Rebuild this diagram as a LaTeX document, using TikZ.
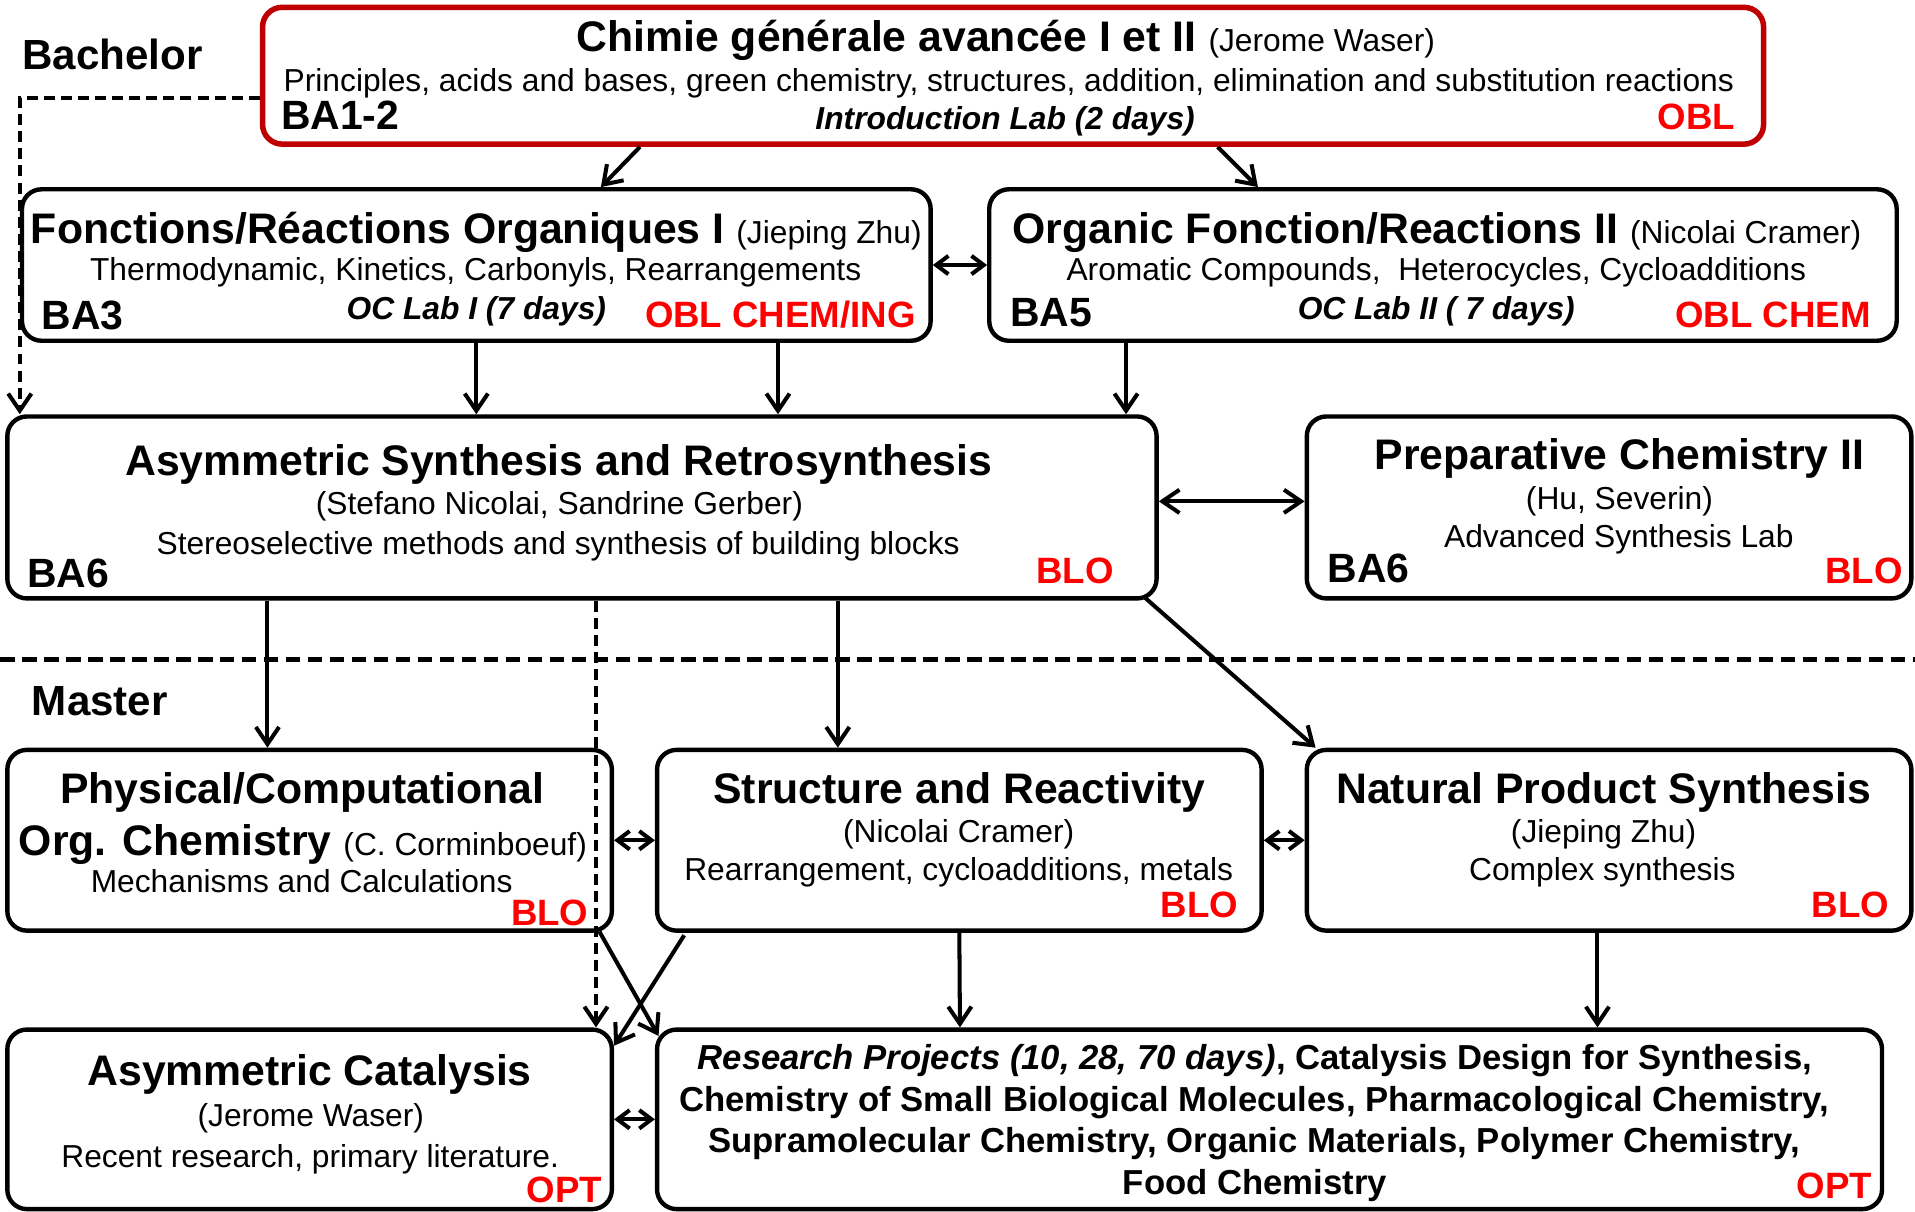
\documentclass[tikz,border=0pt]{standalone}
\usepackage{fontspec}
\setmainfont{Liberation Sans}
\usetikzlibrary{arrows.meta}
\definecolor{boxRed}{RGB}{192,0,0}
\tikzset{course/.style={draw, line width=3.6pt, rounded corners=16pt, inner sep=0pt},
    ttl/.style={anchor=base, inner sep=0pt, font=\fontsize{35}{40}\selectfont\bfseries},
    txt/.style={anchor=base, inner sep=0pt, font=\fontsize{26}{30}\selectfont},
    lab/.style={anchor=base, inner sep=0pt, font=\fontsize{26}{30}\selectfont\bfseries\itshape},
    sem/.style={anchor=base west, inner sep=0pt, font=\fontsize{33.5}{38}\selectfont\bfseries},
    stage/.style={anchor=base west, inner sep=0pt, font=\fontsize{34.5}{40}\selectfont\bfseries},
    tag/.style={anchor=base east, inner sep=0pt, text=red, font=\fontsize{30}{34}\selectfont\bfseries},
    proj/.style={anchor=base, inner sep=0pt, font=\fontsize{28.4}{32}\selectfont\bfseries},
    link/.style={line width=3.3pt},
    twin/.style={line width=3.3pt, >={Straight Barb[length=10pt,width=15pt]}},
    dashlink/.style={line width=3.3pt, dash pattern=on 9pt off 5pt},
    }

\begin{document}
\begin{tikzpicture}[x=1pt, y=-1pt, >={Straight Barb[length=14pt,width=19pt]}]
	\fill[white] (0,0) rectangle (1568,992);
	\useasboundingbox (0,0) rectangle (1568,992);
	\node[stage] (bachelor) at (18,56.5) {Bachelor};
	\node[stage] (master) at (26,585.5) {Master};
	\coordinate (divL) at (0,540);
	\coordinate (divR) at (1568,540);
	\draw[line width=3.6pt, dash pattern=on 12pt off 6pt] (divL) -- (divR);

	%BA1-2
	\node[course, draw=boxRed, line width=4.5pt, minimum width=1229pt, minimum height=112pt] (chimie) at (829.5,62) {};
	\node[ttl] (chimieT) at (823.5,42.5) {Chimie générale avancée I et II {\fontsize{26}{30}\selectfont\mdseries (Jerome Waser)}};
	\node[txt] (chimieD) at (826,75) {Principles, acids and bases, green chemistry, structures, addition, elimination and substitution reactions};
	\node[sem] (chimieS) at (230,106) {BA1-2};
	\node[lab] (chimieL) at (823,106) {Introduction Lab (2 days)};
	\node[tag] (chimieO) at (1421,106) {OBL};

	%BA3
	\node[course, minimum width=744pt, minimum height=124pt] (orgOne) at (390,217) {};
	\node[ttl] (orgOneT) at (390,199.5) {Fonctions/Réactions Organiques I {\fontsize{26}{30}\selectfont\mdseries (Jieping Zhu)}};
	\node[txt] (orgOneD) at (389.5,230) {Thermodynamic, Kinetics, Carbonyls, Rearrangements};
	\node[sem] (orgOneS) at (34,270) {BA3};
	\node[lab] (orgOneL) at (390,262) {OC Lab I (7 days)};
	\node[tag] (orgOneO) at (750,268) {OBL CHEM/ING};

	%BA5
	\node[course, minimum width=743pt, minimum height=124pt] (orgTwo) at (1181.5,217) {};
	\node[ttl] (orgTwoT) at (1176.5,199.5) {Organic Fonction/Reactions II {\fontsize{26}{30}\selectfont\mdseries (Nicolai Cramer)}};
	\node[txt] (orgTwoD) at (1176,230) {Aromatic Compounds, \ Heterocycles, Cycloadditions};
	\node[sem] (orgTwoS) at (827,267) {BA5};
	\node[lab] (orgTwoL) at (1176,262) {OC Lab II ( 7 days)};
	\node[tag] (orgTwoO) at (1532,268) {OBL CHEM};

	%BA6
	\node[course, minimum width=941pt, minimum height=149pt] (asymSynth) at (476.5,415.5) {};
	\node[ttl] (asymSynthT) at (457.5,389.5) {Asymmetric Synthesis and Retrosynthesis};
	\node[txt] (asymSynthP) at (458,421) {(Stefano Nicolai, Sandrine Gerber)};
	\node[txt] (asymSynthD) at (457,454) {Stereoselective methods and synthesis of building blocks};
	\node[sem] (asymSynthS) at (22,481) {BA6};
	\node[tag] (asymSynthO) at (912,478) {BLO};

	\node[course, minimum width=495pt, minimum height=149pt] (prepChem) at (1317.5,415.5) {};
	\node[ttl] (prepChemT) at (1326,384.5) {Preparative Chemistry II};
	\node[txt] (prepChemP) at (1326,417) {(Hu, Severin)};
	\node[txt] (prepChemD) at (1325.5,448) {Advanced Synthesis Lab};
	\node[sem] (prepChemS) at (1087,477) {BA6};
	\node[tag] (prepChemO) at (1558,478) {BLO};

	%Master
	\node[course, minimum width=495pt, minimum height=148pt] (physComp) at (253.5,688) {};
	\node[ttl] (physCompT) at (247.5,657.5) {Physical/Computational};
	\node[ttl] (physCompU) at (248,700.5) {Org. Chemistry {\fontsize{26}{30}\selectfont\mdseries (C. Corminboeuf)}};
	\node[txt] (physCompD) at (247,731) {Mechanisms and Calculations};
	\node[tag] (physCompO) at (482,758) {BLO};

	\node[course, minimum width=495pt, minimum height=148pt] (structReact) at (785.5,688) {};
	\node[ttl] (structReactT) at (785.5,657.5) {Structure and Reactivity};
	\node[txt] (structReactP) at (785,690) {(Nicolai Cramer)};
	\node[txt] (structReactD) at (785,721) {Rearrangement, cycloadditions, metals};
	\node[tag] (structReactO) at (1014,751) {BLO};

	\node[course, minimum width=495pt, minimum height=148pt] (natProd) at (1317.5,688) {};
	\node[ttl] (natProdT) at (1313,657.5) {Natural Product Synthesis};
	\node[txt] (natProdP) at (1313,690) {(Jieping Zhu)};
	\node[txt] (natProdD) at (1312,721) {Complex synthesis};
	\node[tag] (natProdO) at (1547,751) {BLO};

	\node[course, minimum width=495pt, minimum height=147pt] (asymCat) at (253.5,916.5) {};
	\node[ttl] (asymCatT) at (253.5,888.5) {Asymmetric Catalysis};
	\node[txt] (asymCatP) at (254.5,922) {(Jerome Waser)};
	\node[txt] (asymCatD) at (254,956) {Recent research, primary literature.};
	\node[tag] (asymCatO) at (493,985) {OPT};

	\node[course, minimum width=1003pt, minimum height=147pt] (research) at (1039.5,916.5) {};
	\node[proj] (researchA) at (1027.5,876) {{\itshape Research Projects (10, 28, 70 days)}, Catalysis Design for Synthesis,};
	\node[proj] (researchB) at (1027,910) {Chemistry of Small Biological Molecules, Pharmacological Chemistry,};
	\node[proj] (researchC) at (1027,944) {Supramolecular Chemistry, Organic Materials, Polymer Chemistry,};
	\node[proj] (researchD) at (1027.5,978) {Food Chemistry};
	\node[tag] (researchO) at (1533,981) {OPT};

	%connectors
	\draw[link, ->] ([xshift=-305.5pt]chimie.south) -- ([xshift=102pt]orgOne.north);
	\draw[link, ->] ([xshift=167.5pt]chimie.south) -- ([xshift=-151.5pt]orgTwo.north);
	\draw[dashlink, ->] ([yshift=-18pt]chimie.west) -| ([xshift=12pt]asymSynth.north west);
	\draw[twin, <->] (orgOne.east) -- (orgTwo.west);
	\draw[link, ->] (orgOne.south) -- ([xshift=-86.5pt]asymSynth.north);
	\draw[link, ->] ([xshift=247pt]orgOne.south) -- ([xshift=160.5pt]asymSynth.north);
	\draw[link, ->] ([xshift=-259.5pt]orgTwo.south) -- ([xshift=445.5pt]asymSynth.north);
	\draw[link, <->] ([yshift=5pt]asymSynth.east) -- ([yshift=5pt]prepChem.west);
	\draw[link, ->] ([xshift=-257.5pt]asymSynth.south) -- ([xshift=-34.5pt]physComp.north);
	\draw[dashlink, ->] ([xshift=11.5pt]asymSynth.south) -- ([xshift=234.5pt]asymCat.north);
	\draw[link, ->] ([xshift=209.5pt]asymSynth.south) -- ([xshift=-99.5pt]structReact.north);
	\draw[link, ->] ([xshift=-12pt,yshift=3pt]asymSynth.south east) -- ([xshift=9pt]natProd.north west);
	\draw[twin, <->] (physComp.east) -- (structReact.west);
	\draw[twin, <->] (structReact.east) -- (natProd.west);
	\draw[link, ->] ([xshift=-12pt,yshift=1pt]physComp.south east) -- ([xshift=3pt,yshift=-7pt]research.north west);
	\draw[link, ->] ([xshift=24pt,yshift=-2pt]structReact.south west) -- ([yshift=-15pt]asymCat.north east);
	\draw[link, ->] (structReact.south) -- ([xshift=-253.5pt]research.north);
	\draw[link, ->] ([xshift=-9.5pt]natProd.south) -- ([xshift=268.5pt]research.north);
	\draw[twin, <->] (asymCat.east) -- (research.west);
\end{tikzpicture}
\end{document}
